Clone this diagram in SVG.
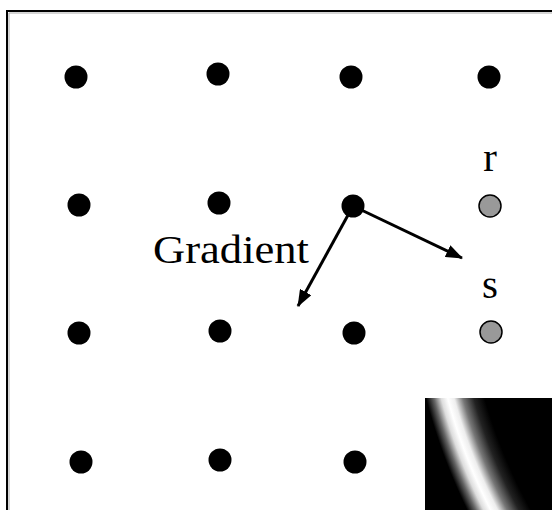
<svg xmlns="http://www.w3.org/2000/svg" width="552" height="510" viewBox="0 0 552 510">
<style>
.dot{fill:#000}
.gdot{fill:#999;stroke:#000;stroke-width:1.5}
.lbl{font-family:"Liberation Serif","Times New Roman",serif;font-size:41px;fill:#000}
.conn{stroke:#000;stroke-width:3;fill:none}
</style>
<defs>
<marker id="ah" markerWidth="17" markerHeight="13" refX="16" refY="6.5" orient="auto" markerUnits="userSpaceOnUse" viewBox="0 0 17 13">
<path d="M0,0 L17,6.5 L0,13 Z" fill="#000"/>
</marker>
<radialGradient id="glow" gradientUnits="userSpaceOnUse" cx="1000" cy="250" r="700">
<stop offset="0" stop-color="#000"/>
<stop offset="0.766" stop-color="#000"/>
<stop offset="0.781" stop-color="#222"/>
<stop offset="0.796" stop-color="#777"/>
<stop offset="0.808" stop-color="#eee"/>
<stop offset="0.817" stop-color="#fff"/>
<stop offset="0.826" stop-color="#ddd"/>
<stop offset="0.836" stop-color="#666"/>
<stop offset="0.847" stop-color="#000"/>
<stop offset="1" stop-color="#000"/>
</radialGradient>
</defs>
<rect width="552" height="510" fill="#fff"/>
<path d="M7,510 V11 H552" fill="none" stroke="#000" stroke-width="2"/>
<path d="M9,510 V13 H552" fill="none" stroke="#aaa" stroke-width="1"/>
<rect id="glow-image" x="425" y="398" width="127" height="112" fill="url(#glow)"/>
<g id="connectors">
<line class="conn" x1="353" y1="206" x2="462" y2="258" marker-end="url(#ah)"/>
<line class="conn" x1="353" y1="206" x2="298" y2="306" marker-end="url(#ah)"/>
</g>
<g id="n11"><circle class="dot" cx="76" cy="77" r="11.5"/></g>
<g id="n12"><circle class="dot" cx="218" cy="74" r="11.5"/></g>
<g id="n13"><circle class="dot" cx="351" cy="77" r="11.5"/></g>
<g id="n14"><circle class="dot" cx="489" cy="77" r="11.5"/></g>
<g id="n21"><circle class="dot" cx="79" cy="205" r="11.5"/></g>
<g id="n22"><circle class="dot" cx="219" cy="203" r="11.5"/></g>
<g id="n23"><circle class="dot" cx="353" cy="206" r="11.5"/></g>
<g id="r"><circle class="gdot" cx="490" cy="206" r="11"/><text class="lbl" x="490" y="171" text-anchor="middle">r</text></g>
<g id="n31"><circle class="dot" cx="79" cy="333" r="11.5"/></g>
<g id="n32"><circle class="dot" cx="220" cy="331" r="11.5"/></g>
<g id="n33"><circle class="dot" cx="354" cy="333" r="11.5"/></g>
<g id="s"><circle class="gdot" cx="491" cy="332" r="11"/><text class="lbl" x="490" y="298" text-anchor="middle">s</text></g>
<g id="n41"><circle class="dot" cx="81" cy="462" r="11.5"/></g>
<g id="n42"><circle class="dot" cx="220" cy="460" r="11.5"/></g>
<g id="n43"><circle class="dot" cx="355" cy="462" r="11.5"/></g>
<g id="gradient-label"><text class="lbl" x="153" y="263" textLength="156" lengthAdjust="spacingAndGlyphs">Gradient</text></g>
</svg>
